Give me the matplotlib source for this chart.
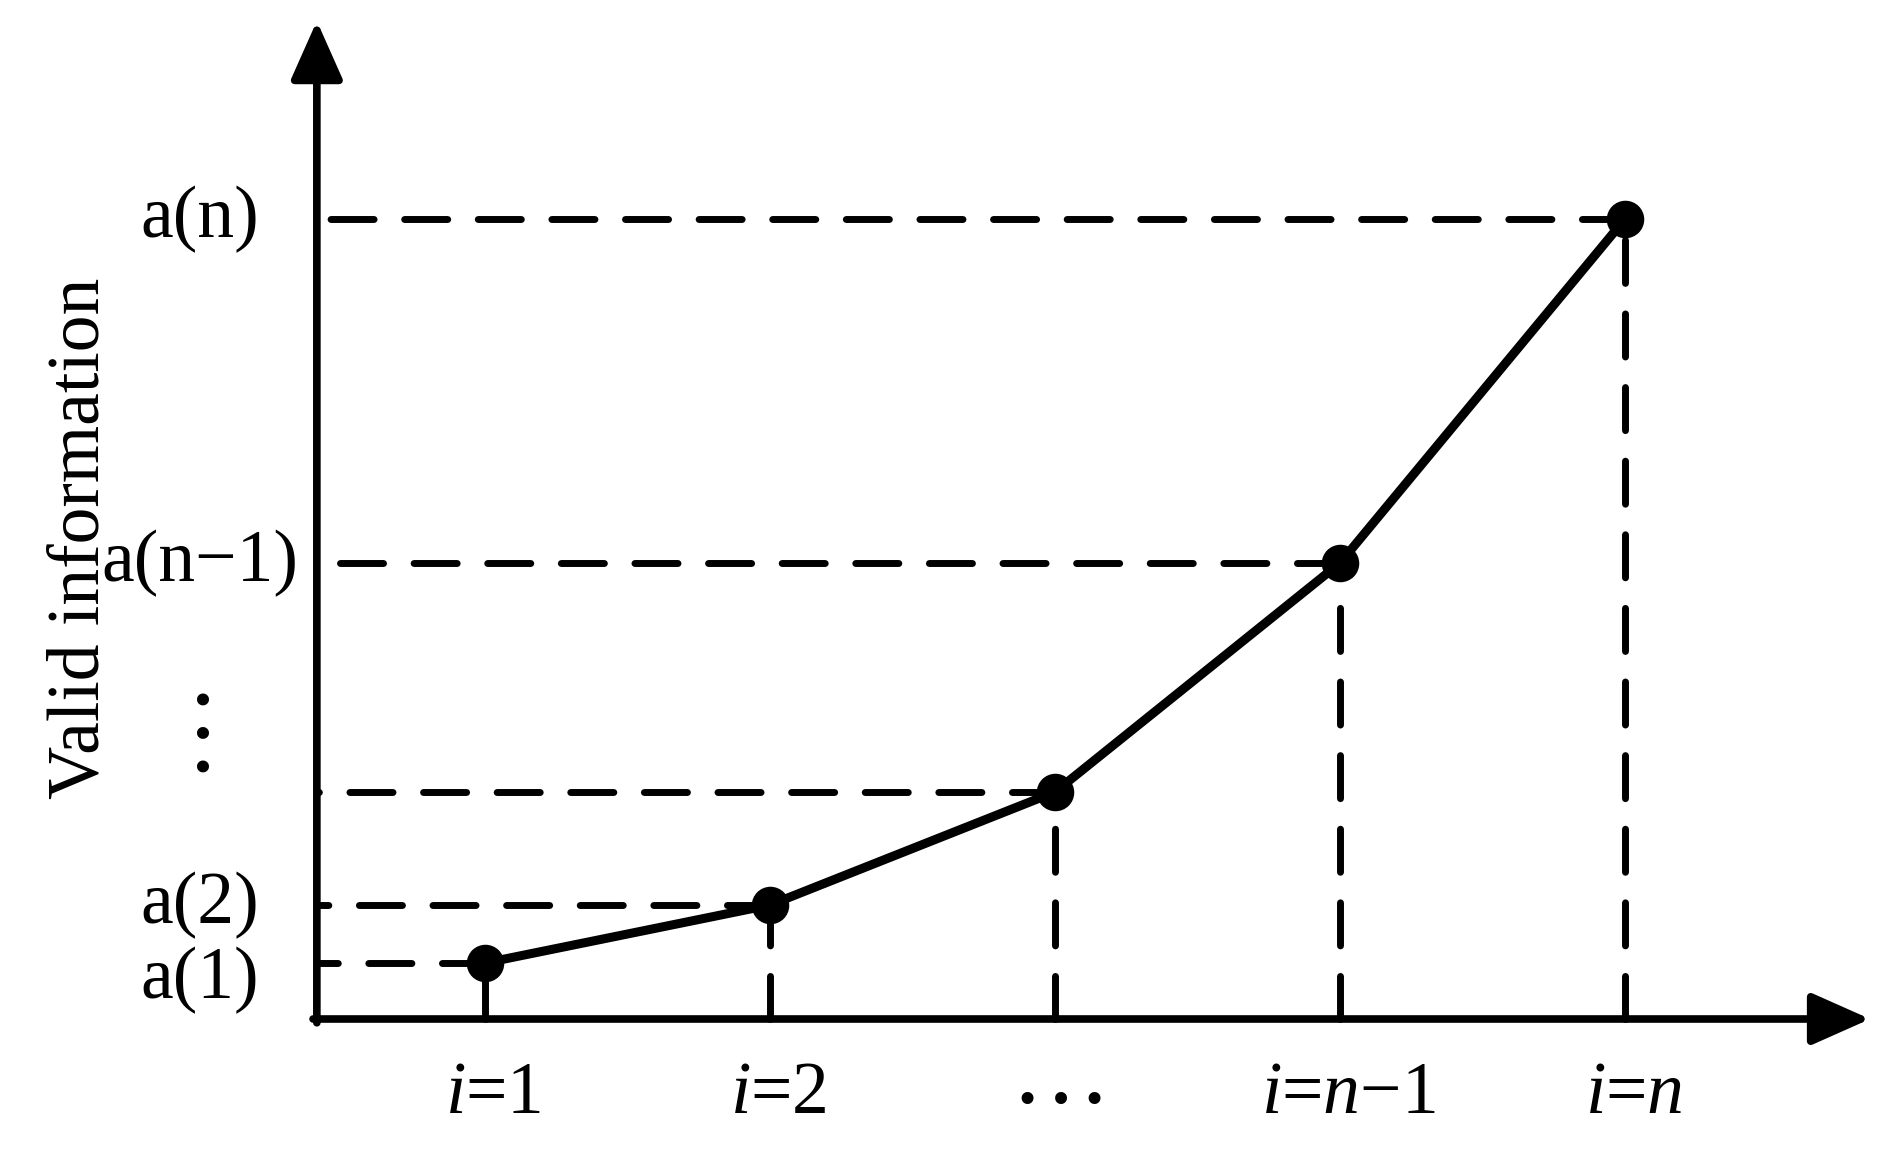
import numpy as np
import matplotlib
matplotlib.use("Agg")
import matplotlib.pyplot as plt

plt.rcParams["font.family"] = ["Liberation Serif", "DejaVu Serif"]
plt.rcParams["mathtext.fontset"] = "custom"
plt.rcParams["mathtext.rm"] = "Liberation Serif"
plt.rcParams["mathtext.it"] = "Liberation Serif:italic"

# data
steps = [1, 2, 3, 4, 5]
valid_info = [56, 114, 227, 456, 800]
x_labels = ["$i$=1", "$i$=2", "\u2026", "$i$=$n$\u22121", "$i$=$n$"]
y_labels = ["a(1)", "a(2)", "\u2026", "a(n\u22121)", "a(n)"]

# layout (data units; 1 x-unit ~ 285 px, 1 y-unit = 1 px)
W, H = 1897, 1149
x0 = 0.41            # where the vertical axis sits
y_top = 998          # up arrow tip
x_right = 5.86       # right arrow tip
ylab_shift = [-17, 0, 70, 0, 0]
FS = 53
DOTS_FS = 72

fig = plt.figure(figsize=(W / 100, H / 100), dpi=100)
ax = fig.add_axes([0, 0, 1, 1])
ax.set_xlim(1 - 485 / 285, 1 + (W - 485) / 285)
ax.set_ylim(-(H - 1019), 1019)
ax.axis("off")

dash = dict(color="black", lw=5, dashes=(6.2, 4.4), dash_capstyle="round", zorder=2)
for x, y in zip(steps, valid_info):
    ax.plot([x, x0], [y, y], **dash)       # horizontal from point to axis
    ax.plot([x, x], [0, y], **dash)        # vertical from axis up

ax.plot(steps, valid_info, color="black", lw=6.5, marker="o", ms=26,
        solid_joinstyle="round", zorder=4)

# axes with arrows
arrow = dict(arrowstyle="-|>,head_length=1.8,head_width=0.8", color="black",
             lw=5.5, shrinkA=0, shrinkB=0, mutation_scale=20)
ax.annotate("", xy=(x0, y_top), xytext=(x0, -3.8), arrowprops=arrow, zorder=5)
ax.annotate("", xy=(x_right, 0), xytext=(x0 - 0.0134, 0), arrowprops=arrow, zorder=5)

for x, lab in zip(steps, x_labels):
    if lab == "\u2026":
        ax.text(x + 0.02, -60, lab, fontsize=DOTS_FS, ha="center", va="center")
    else:
        ax.text(x + 0.03, -76, lab, fontsize=FS, ha="center", va="center")

for y, lab, s in zip(valid_info, y_labels, ylab_shift):
    if lab == "\u2026":
        ax.text(-0.09, y + s, lab, fontsize=DOTS_FS, ha="center", va="center",
                rotation=90)
    else:
        ax.text(0.0, y + s, lab, fontsize=FS, ha="center", va="center")

ax.text(-0.42, 1019 - 538, "Valid information", fontsize=FS, rotation=90,
        ha="center", va="center")

fig.savefig("out.png", dpi=100)
